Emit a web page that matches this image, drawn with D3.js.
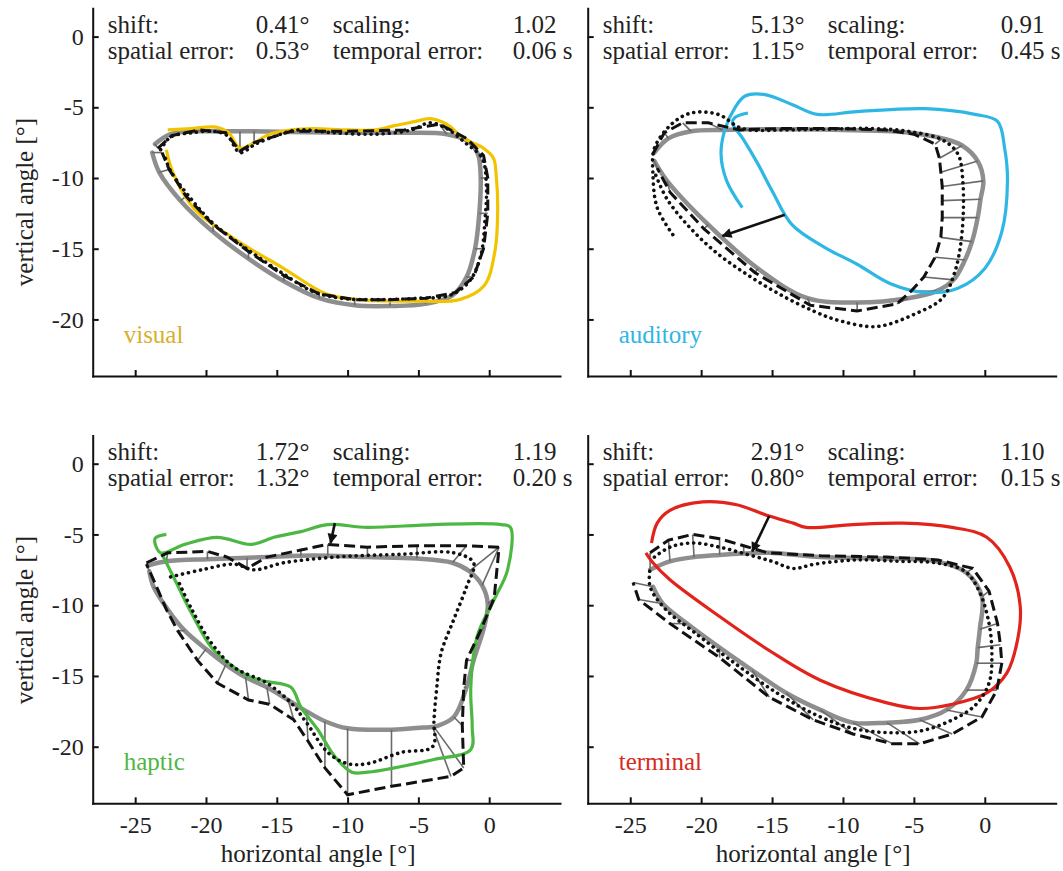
<!DOCTYPE html>
<html lang="en">
<head>
<meta charset="UTF-8"/>
<title>Trajectories</title>
<script src="https://d3js.org/d3.v7.min.js"></script>
<style>
	body { margin: 0; background: #fff; }
	svg text { font-family: "Liberation Serif", "Times New Roman", serif; fill: #222; }
	.axis path, .axis line { stroke: #111; stroke-width: 2; fill: none; }
	.axis text { font-size: 24px; }
	.target { fill: none; stroke: #8e8e8e; stroke-width: 4.5; stroke-linejoin: round; stroke-linecap: round; }
	.link { stroke: #6a6a6a; stroke-width: 1.6; }
	.fit { fill: none; stroke: #111; stroke-width: 3; stroke-dasharray: 11,5; }
	.dots { fill: none; stroke: #111; stroke-width: 3.6; stroke-dasharray: 0.1,6; stroke-linecap: round; }
	.response { fill: none; stroke-width: 3.2; stroke-linejoin: round; }
	.stat { font-size: 25px; }
	.title { font-size: 25px; }
</style>
</head>
<body>
<div id="chart"></div>
<script>
// ticks
var xTicks = [-25, -20, -15, -10, -5, 0];
var yTicks = [0, -5, -10, -15, -20];
var statLabels = ["shift:", "scaling:", "spatial error:", "temporal error:"];

// visual
var visualStats = ["0.41°", "1.02", "0.53°", "0.06 s"];
var visualTarget = [[-23.6,-7.6],[-22.5,-6.9],[-20.5,-6.7],[-18.6,-6.7],[-17.6,-6.7],[-16.6,-6.7],[-14,-6.75],[-10,-6.8],[-6,-6.8],[-3,-6.9],[-1.5,-7.4],[-0.8,-8.3],[-0.6,-10],[-0.7,-12.5],[-1.0,-15],[-1.6,-17],[-2.6,-18.3],[-4.5,-18.9],[-7,-19.05],[-9.5,-19],[-12,-18.5],[-14.5,-17.3],[-17,-15.7],[-19.5,-13.8],[-21.8,-11.6],[-23.3,-9.6],[-23.8,-8.2]];
var visualFit = [[-23.4,-7.9],[-22.4,-7.0],[-20.5,-6.6],[-18.6,-6.8],[-17.6,-8.1],[-16.6,-7.5],[-14,-6.7],[-10,-6.7],[-6,-6.6],[-3.5,-6.2],[-1.6,-7.2],[-0.4,-8.4],[-0.1,-10],[-0.1,-12.5],[-0.4,-15],[-1.1,-17],[-2.4,-18.1],[-4.5,-18.5],[-7,-18.6],[-9.5,-18.6],[-12,-18.2],[-14.5,-16.9],[-17,-15.2],[-19.5,-13.3],[-21.4,-11.3],[-22.6,-9.4],[-23.1,-8.2]];
var visualDotted = [[-23.2,-8.0],[-22.5,-7.1],[-21,-6.8],[-19.5,-6.7],[-18.5,-7.0],[-17.6,-8.2],[-16.5,-7.6],[-15,-7.0],[-13.5,-6.6],[-11,-6.8],[-8,-6.9],[-5.5,-6.6],[-4.2,-6.1],[-3,-6.5],[-1.7,-7.5],[-0.5,-8.6],[-0.2,-10.5],[-0.3,-13],[-0.6,-15.5],[-1.4,-17.3],[-2.8,-18.3],[-5,-18.5],[-8,-18.6],[-10.5,-18.5],[-12.5,-18],[-14.5,-16.8],[-17,-15.1],[-19.5,-13.2],[-21.2,-11.3],[-22.5,-9.5],[-22.9,-8.5]];
var visualResponse = [[-22.7,-6.6],[-21,-6.5],[-19.3,-6.4],[-18.4,-6.8],[-17.6,-7.9],[-16.6,-7.5],[-15.5,-6.9],[-14,-6.6],[-12.5,-6.5],[-10,-6.6],[-8,-6.6],[-6.7,-6.3],[-5.2,-6.0],[-4.2,-5.8],[-3,-6.2],[-1.8,-7.2],[-0.4,-7.9],[0.3,-8.6],[0.5,-9.9],[0.6,-12.3],[0.4,-15.2],[-0.35,-17.6],[-2.1,-18.6],[-4.9,-18.7],[-9.2,-18.6],[-11.5,-18.2],[-14.5,-16.4],[-18,-14.3],[-20.8,-12.2],[-22.3,-9.7],[-22.8,-8.0]];

// auditory
var auditoryStats = ["5.13°", "0.91", "1.15°", "0.45 s"];
var auditoryTarget = [[-23.3,-8.2],[-22.3,-7.2],[-20.7,-6.7],[-18.5,-6.6],[-16,-6.55],[-13.6,-6.55],[-10,-6.6],[-6.6,-6.7],[-4.5,-6.9],[-3.0,-7.2],[-1.6,-7.7],[-0.5,-8.8],[-0.1,-10.2],[-0.3,-11.5],[-0.5,-12.8],[-0.9,-14.5],[-1.4,-15.8],[-2.2,-17.2],[-3.4,-18.0],[-5.4,-18.5],[-9,-18.8],[-12.5,-18.5],[-16,-16.4],[-19.5,-13.3],[-22.4,-10.2],[-23.3,-8.8]];
var auditoryFit = [[-23.4,-8.3],[-22.6,-6.8],[-21.3,-6.1],[-19.5,-6.1],[-17.3,-6.6],[-14.5,-6.5],[-10.5,-6.5],[-7,-6.6],[-5,-6.9],[-3.5,-7.6],[-3.2,-8.6],[-3.1,-9.6],[-3.0,-10.6],[-3.0,-11.6],[-3.0,-12.8],[-3.1,-14.2],[-3.5,-15.6],[-4.3,-17.0],[-5.2,-18.0],[-6.2,-18.9],[-9.0,-19.4],[-12.3,-19.0],[-16.2,-16.7],[-19.8,-13.6],[-22.2,-11.0],[-23.1,-9.3]];
var auditoryDotted = [[-22,-14],[-23.1,-12.1],[-23.4,-9.7],[-23.3,-7.9],[-22.1,-6.2],[-20.7,-5.4],[-18.8,-5.5],[-17.1,-6.5],[-14,-6.6],[-11.3,-6.55],[-8,-6.5],[-5.4,-6.7],[-3,-7.3],[-1.9,-8.3],[-1.55,-10.2],[-1.6,-13.8],[-2.1,-16.6],[-3,-18.5],[-4.9,-19.6],[-7.6,-20.5],[-10.2,-20.1],[-12.1,-19.4],[-14.5,-18.2],[-16.8,-16.8],[-18.9,-15.3],[-20.8,-13.5],[-22.4,-11.5],[-23.2,-9.8]];
var auditoryResponse = [[-17.1,-12.1],[-18.2,-10.2],[-18.6,-8.3],[-18.3,-6.5],[-17.6,-5.0],[-16.9,-4.2],[-15.5,-4.1],[-13.6,-4.8],[-11.8,-5.5],[-9,-5.3],[-4.2,-5.1],[-0.7,-5.5],[0.9,-6],[1.4,-7.9],[1.6,-10.2],[1.2,-13.8],[0,-16.4],[-1.9,-17.8],[-4.2,-18.1],[-6.6,-17.5],[-9,-16.1],[-11.3,-14.9],[-13.6,-13.3],[-15,-10.9],[-16,-9],[-17,-7.3],[-17.8,-6.1],[-17.6,-5.7],[-16.7,-5.4]];
var auditoryShift = [[-14.1,-12.6],[-18.5,-14.1]];

// haptic
var hapticStats = ["1.72°", "1.19", "1.32°", "0.20 s"];
var hapticTarget = [[-24.1,-7.2],[-22.8,-6.9],[-19.9,-6.75],[-18.5,-6.7],[-17.1,-6.65],[-15.7,-6.6],[-13.3,-6.5],[-11.4,-6.5],[-8.6,-6.6],[-5.1,-6.7],[-2.6,-7.0],[-1.4,-7.6],[-0.5,-8.6],[-0.1,-9.9],[-0.35,-11.5],[-1.1,-13.9],[-1.6,-15.8],[-2.5,-17.9],[-3.9,-18.6],[-4.0,-18.6],[-6.9,-18.8],[-10,-18.7],[-11.6,-18.2],[-12.9,-17.5],[-14.2,-16.7],[-15.7,-15.8],[-17.2,-15.1],[-18.6,-14.2],[-20,-13.1],[-21.5,-11.8],[-22.7,-10.3],[-23.7,-8.7],[-24.0,-7.6]];
var hapticFit = [[-24.2,-7.0],[-22.7,-6.3],[-19.9,-6.2],[-18.5,-6.6],[-17.1,-7.4],[-15.7,-6.6],[-13.3,-6.1],[-11.4,-5.7],[-8.6,-5.9],[-5.1,-5.8],[-1.6,-5.8],[0.7,-5.9],[0.7,-5.9],[0.35,-9.5],[-0.7,-12],[-1.6,-13.9],[-1.8,-15.8],[-1.9,-18.5],[-1.8,-21.5],[-2.7,-22.1],[-6.9,-22.8],[-10,-23.4],[-11.6,-21.5],[-12.8,-19.6],[-13.8,-18.1],[-15.5,-17],[-17,-16.7],[-19.2,-15.5],[-20.6,-13.9],[-22,-11.8],[-22.8,-10.3],[-23.4,-8.9],[-24.2,-7.1]];
var hapticDotted = [[-22.5,-8],[-20.3,-7.5],[-18,-7.1],[-16.6,-7.5],[-14.5,-7.0],[-10.9,-6.6],[-6.2,-6.4],[-2.5,-6.3],[-1.1,-7.0],[-1.6,-8.7],[-2.5,-11],[-3.4,-13.4],[-3.7,-15.8],[-3.9,-18.1],[-4.0,-20],[-6.2,-20.4],[-8.6,-21.2],[-10,-21.2],[-11.4,-20.4],[-12.9,-18.3],[-14,-16.9],[-15.7,-15.5],[-18,-14.4],[-19.6,-12.7],[-21,-10.3],[-22,-8.2]];
var hapticResponse = [[-22.8,-5.0],[-23.6,-5.3],[-23.2,-6.3],[-21.5,-5.7],[-19.2,-5.2],[-16.8,-5.7],[-15.2,-5.2],[-13.3,-4.8],[-11.4,-4.3],[-8.6,-4.5],[-3.9,-4.3],[0.85,-4.3],[1.5,-4.5],[1.3,-7.5],[0.35,-9.6],[-0.85,-12.2],[-1.3,-15.8],[-1.2,-18.6],[-1.3,-20.2],[-3.9,-20.9],[-8.6,-21.8],[-9.7,-21.8],[-10.9,-20.7],[-12.1,-18.8],[-13.3,-17.2],[-14,-15.8],[-15.7,-15.4],[-16.8,-15.1],[-18,-14.4],[-19.6,-13],[-21,-10.6],[-22.2,-8.2],[-23.1,-6.4]];
var hapticShift = [[-10.9,-4.2],[-11.2,-5.6]];

// terminal
var terminalStats = ["2.91°", "1.10", "0.80°", "0.15 s"];
var terminalTarget = [[-23.6,-7.5],[-22.2,-6.9],[-20.5,-6.6],[-18.7,-6.45],[-17,-6.35],[-15.2,-6.3],[-11.6,-6.6],[-6.9,-6.7],[-3.4,-6.9],[-1.3,-7.7],[-0.2,-9.4],[-0.35,-11.7],[-0.5,-13],[-0.6,-14.1],[-1.3,-16],[-2.7,-17.4],[-4.6,-18.1],[-6.9,-18.3],[-9.3,-18.3],[-11.6,-17.4],[-14,-16.2],[-16.4,-14.6],[-18.7,-13],[-21,-11.3],[-22.7,-9.9],[-23.4,-8.7]];
var terminalFit = [[-23.6,-6.3],[-22.3,-5.4],[-20.6,-5.0],[-18.7,-5.3],[-17,-5.8],[-15.3,-6.3],[-11.6,-6.5],[-6.9,-6.6],[-3.3,-6.8],[-0.85,-7.4],[0.3,-9.0],[0.9,-11.3],[1.1,-12.8],[1.2,-14.1],[0.85,-16],[-0.2,-17.9],[-2.3,-19.1],[-4.6,-19.8],[-6.5,-19.8],[-9.3,-19.1],[-12.1,-18.1],[-15.2,-16.5],[-18.7,-13.7],[-22.2,-11.3],[-24.4,-9.6],[-24.8,-8.4]];
var terminalDotted = [[-23.3,-6.6],[-22.2,-5.9],[-20.6,-5.6],[-18.7,-5.9],[-16.8,-6.4],[-15,-6.9],[-13.5,-7.4],[-12,-7.1],[-9,-6.8],[-6,-6.9],[-3.5,-7.0],[-1.4,-7.6],[-0.4,-9.0],[0.3,-11.3],[0.5,-13.5],[0.3,-15.5],[-0.7,-17.1],[-2.5,-18.2],[-4.6,-18.9],[-7,-19],[-9.3,-18.7],[-11.8,-17.8],[-14.5,-16.3],[-17.5,-14.2],[-20.5,-11.9],[-22.5,-10.3],[-23.6,-8.7],[-23.6,-7.4]];
var terminalResponse = [[-23.5,-5.6],[-23.1,-4.2],[-22.2,-3.3],[-19.9,-2.7],[-17.5,-2.9],[-15.2,-3.7],[-13.5,-4.2],[-12.6,-4.5],[-9.3,-4.3],[-5.8,-4.2],[-2.3,-4.5],[0.14,-5.2],[1.76,-7.3],[2.5,-10.1],[2.3,-12.5],[1.55,-14.8],[0.14,-16.2],[-2.3,-17.0],[-4.6,-17.3],[-6.9,-16.9],[-11.6,-15.3],[-15.2,-13.2],[-18.7,-10.8],[-22.2,-8.2],[-23.4,-7.0],[-23.9,-6.3]];
var terminalShift = [[-15.2,-3.7],[-16.4,-6.2]];

var panels = [
	{ name: "visual", color: "#f2c400", label: "#d6b030", stats: visualStats, target: visualTarget, fit: visualFit, dotted: visualDotted, response: visualResponse, shift: null, left: 92.7, right: 560, top: 8.3, bottom: 376, xLab: false, yLab: true, titleY: 202, valueCol: 420 },
	{ name: "auditory", color: "#2eb6e4", label: "#2eb6e4", stats: auditoryStats, target: auditoryTarget, fit: auditoryFit, dotted: auditoryDotted, response: auditoryResponse, shift: auditoryShift, left: 587.7, right: 1055.7, top: 8.3, bottom: 376, xLab: false, yLab: false, valueCol: 413 },
	{ name: "haptic", color: "#4cb843", label: "#4cb843", stats: hapticStats, target: hapticTarget, fit: hapticFit, dotted: hapticDotted, response: hapticResponse, shift: hapticShift, left: 92.7, right: 560, top: 435.4, bottom: 803.3, xLab: true, yLab: true, titleY: 620, valueCol: 420 },
	{ name: "terminal", color: "#e2231c", label: "#d92a22", stats: terminalStats, target: terminalTarget, fit: terminalFit, dotted: terminalDotted, response: terminalResponse, shift: terminalShift, left: 587.7, right: 1055.7, top: 435.4, bottom: 803.3, xLab: true, yLab: false, valueCol: 413 }
];

var svg = d3.select("#chart").append("svg")
	.attr("width", 1063)
	.attr("height", 871);

svg.append("defs").append("marker")
	.attr("id", "arrow")
	.attr("viewBox", "0 0 10 10")
	.attr("refX", 9)
	.attr("refY", 5)
	.attr("markerUnits", "userSpaceOnUse")
	.attr("markerWidth", 11)
	.attr("markerHeight", 10)
	.attr("orient", "auto")
	.append("path")
	.attr("d", "M0,0 L10,5 L0,10 z")
	.attr("fill", "#111");

panels.forEach(function(p) {
	var x = d3.scaleLinear().domain([-28, 5]).range([p.left, p.right]);
	var y = d3.scaleLinear().domain([-24, 2]).range([p.bottom, p.top]);
	var g = svg.append("g");

	var smooth = d3.line()
		.x(function(d) { return x(d[0]); })
		.y(function(d) { return y(d[1]); })
		.curve(d3.curveCatmullRom.alpha(0.5));
	var straight = d3.line()
		.x(function(d) { return x(d[0]); })
		.y(function(d) { return y(d[1]); });

	// target trajectory
	g.append("path").datum(p.target).attr("class", "target").attr("d", smooth);

	// links between target and fitted response
	g.selectAll(".link")
		.data(p.target.map(function(d, i) { return [d, p.fit[i]]; }))
		.enter().append("line")
		.attr("class", "link")
		.attr("x1", function(d) { return x(d[0][0]); })
		.attr("y1", function(d) { return y(d[0][1]); })
		.attr("x2", function(d) { return x(d[1][0]); })
		.attr("y2", function(d) { return y(d[1][1]); });

	g.append("path").datum(p.response).attr("class", "response")
		.attr("stroke", p.color).attr("d", smooth);
	g.append("path").datum(p.fit).attr("class", "fit").attr("d", straight);
	g.append("path").datum(p.dotted).attr("class", "dots").attr("d", smooth);

	if (p.shift) {
		g.append("line")
			.attr("x1", x(p.shift[0][0])).attr("y1", y(p.shift[0][1]))
			.attr("x2", x(p.shift[1][0])).attr("y2", y(p.shift[1][1]))
			.attr("stroke", "#111").attr("stroke-width", 2.6)
			.attr("marker-end", "url(#arrow)");
	}

	// axes
	var yAxis = d3.axisLeft(y).tickValues(yTicks)
		.tickSizeInner(-6).tickSizeOuter(0).tickPadding(9)
		.tickFormat(function(d) { return p.yLab ? String(d) : ""; });
	var xAxis = d3.axisBottom(x).tickValues(xTicks)
		.tickSizeInner(-6).tickSizeOuter(0).tickPadding(13)
		.tickFormat(function(d) { return p.xLab ? String(d) : ""; });

	g.append("g").attr("class", "axis")
		.attr("transform", "translate(" + p.left + ",0)")
		.call(yAxis);
	g.append("g").attr("class", "axis")
		.attr("transform", "translate(0," + p.bottom + ")")
		.call(xAxis);
	g.selectAll(".axis .domain").attr("stroke-linecap", "square");

	// stats text
	var cols = [15, 163, 240, p.valueCol];
	var rows = [p.top + 24.5, p.top + 51];
	[0, 1, 2, 3].forEach(function(k) {
		var r = Math.floor(k / 2), c = (k % 2) * 2;
		g.append("text").attr("class", "stat")
			.attr("x", p.left + cols[c]).attr("y", rows[r])
			.text(statLabels[k]);
		g.append("text").attr("class", "stat")
			.attr("x", p.left + cols[c + 1]).attr("y", rows[r])
			.text(p.stats[k]);
	});

	// condition label
	g.append("text").attr("class", "title")
		.attr("x", p.left + 31).attr("y", p.bottom - 33)
		.style("fill", p.label)
		.text(p.name);

	if (p.xLab) {
		g.append("text").attr("class", "title")
			.attr("x", p.left + 225.5).attr("y", 862)
			.attr("text-anchor", "middle")
			.text("horizontal angle [°]");
	}
	if (p.yLab) {
		g.append("text").attr("class", "title")
			.attr("transform", "translate(33," + p.titleY + ") rotate(-90)")
			.attr("text-anchor", "middle")
			.text("vertical angle [°]");
	}
});
</script>
</body>
</html>
